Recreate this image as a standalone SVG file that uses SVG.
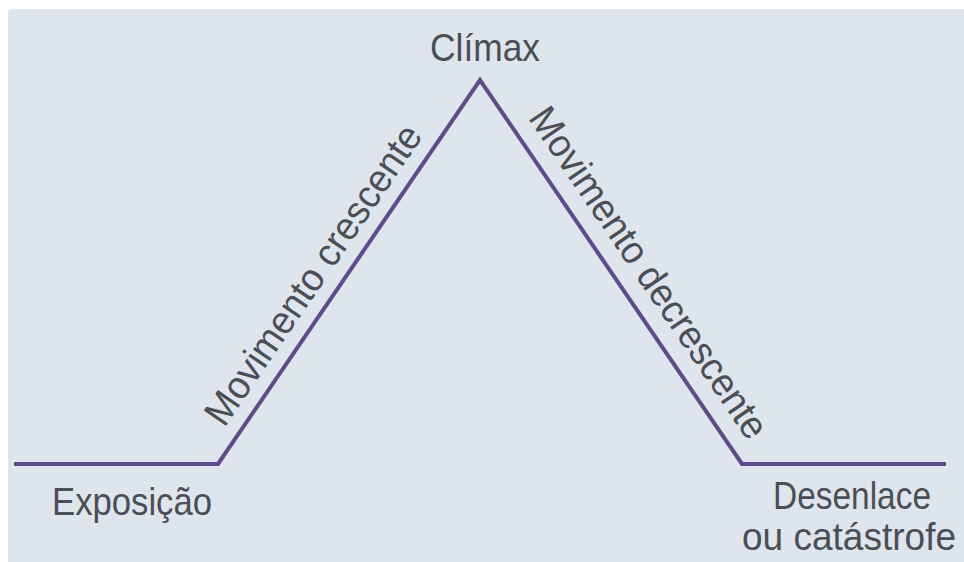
<svg xmlns="http://www.w3.org/2000/svg" width="964" height="562" viewBox="0 0 964 562">
<style>
.lbl{font-family:"Liberation Sans",Arial,sans-serif;font-size:39px;fill:#4a4f55;text-anchor:middle}
.plot{fill:none;stroke:#5e4b8b;stroke-width:4;stroke-linejoin:miter}
</style>
<rect width="964" height="562" fill="#ffffff"/>
<rect x="8" y="9" width="960" height="560" rx="4" fill="#dfe5ec"/>
<g id="connectors">
<polyline class="plot" points="14,464 218,464 480,80 742,464 946,464"/>
</g>
<g id="climax"><text class="lbl" x="485" y="61" textLength="110" lengthAdjust="spacingAndGlyphs">Clímax</text></g>
<g id="exposicao"><text class="lbl" x="132" y="515" textLength="160" lengthAdjust="spacingAndGlyphs">Exposição</text></g>
<g id="desenlace">
<text class="lbl" x="852" y="509" textLength="158" lengthAdjust="spacingAndGlyphs">Desenlace</text>
<text class="lbl" x="849" y="550" style="font-size:38px" textLength="214" lengthAdjust="spacingAndGlyphs">ou catástrofe</text>
</g>
<g id="crescente"><text class="lbl" transform="translate(324,282) rotate(-55.7)" textLength="354" lengthAdjust="spacingAndGlyphs">Movimento crescente</text></g>
<g id="decrescente"><text class="lbl" transform="translate(638,280) rotate(55.7)" textLength="392" lengthAdjust="spacingAndGlyphs">Movimento decrescente</text></g>
</svg>
